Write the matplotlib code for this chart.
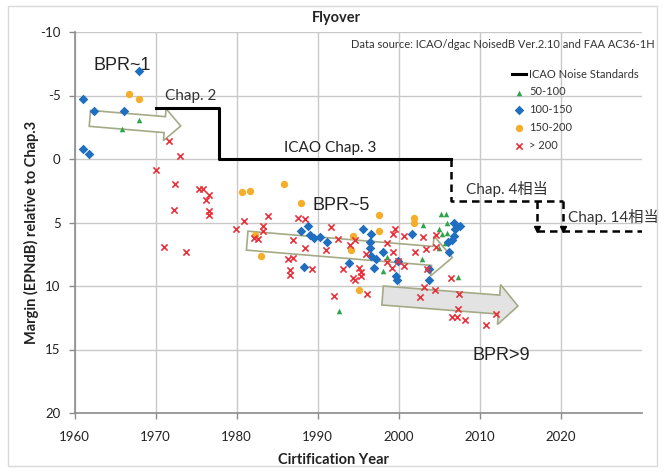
import numpy as np
import matplotlib
matplotlib.use("Agg")
import matplotlib.pyplot as plt
from matplotlib import patches, transforms

plt.rcParams["font.family"] = ["Lato", "Noto Sans CJK JP", "DejaVu Sans"]
plt.rcParams["axes.unicode_minus"] = False

# ---- certification data: (year, margin EPNdB relative to Chap.3) ----
bpr_50_100_year = [1968.0, 1965.9, 1992.6, 1998.6, 1998.0, 2002.9, 2003.0, 2005.2, 2005.8,
                   2005.9, 2004.9, 2005.3, 2005.9, 2005.7, 2004.9, 2007.3]
bpr_50_100_margin = [-3.1, -2.4, 12.0, 7.75, 8.85, 7.9, 5.2, 4.3, 4.3,
                     5.0, 5.55, 5.9, 5.8, 6.6, 7.0, 9.3]

bpr_100_150_year = [1968.0, 1961.1, 1962.4, 1966.1, 1961.1, 1961.8,
                    1987.9, 1988.8, 1989.0, 1989.5, 1990.3, 1991.1, 1988.3,
                    1995.6, 1996.6, 1996.5, 1996.5, 1998.1, 1996.6, 1997.2, 1993.9,
                    1996.9, 1999.7, 1999.8, 2001.6, 1999.9,
                    2006.8, 2007.6, 2006.9, 2006.8, 2006.6, 2006.1, 2006.2, 2003.7, 2003.7]
bpr_100_150_margin = [-6.9, -4.7, -3.8, -3.8, -0.8, -0.4,
                      5.65, 5.25, 6.0, 6.2, 6.15, 6.5, 8.5,
                      5.5, 5.9, 6.55, 7.0, 7.3, 7.65, 7.85, 8.2,
                      8.6, 9.2, 9.5, 5.9, 8.05,
                      5.05, 5.25, 5.5, 6.1, 6.35, 6.55, 7.35, 8.65, 9.55]

bpr_150_200_year = [1966.7, 1967.9, 1980.7, 1981.7, 1985.9, 1987.9, 1982.3, 1983.0,
                    1997.5, 2001.9, 2001.9, 1997.5, 1994.4, 1994.1, 1995.1]
bpr_150_200_margin = [-5.15, -4.7, 2.6, 2.5, 2.0, 3.5, 6.0, 7.6,
                      4.4, 4.65, 5.0, 5.7, 6.05, 7.15, 10.35]

bpr_200_year = [1971.7, 1973.0, 1970.0, 1972.4, 1975.3, 1975.8, 1976.6, 1976.2, 1972.3,
                1976.6, 1976.6, 1971.0, 1973.8,
                1980.9, 1979.9, 1983.9, 1983.3, 1983.3, 1982.2, 1982.6, 1987.6, 1988.4,
                1986.9, 1988.4, 1986.3, 1986.9, 1986.6, 1986.6, 1989.3,
                1991.7, 1992.5, 1991.0, 1991.95, 1993.1, 1999.5, 1999.3, 2000.7, 2003.0,
                1994.6, 1994.0, 1998.5, 1999.3, 2002.0, 2003.3, 1996.0, 1999.9, 1999.2,
                2000.6, 1995.1, 1995.4, 1995.3, 1994.3, 1994.6, 2003.5, 1996.1, 2002.6,
                2003.1, 1998.6,
                2004.6, 2004.6, 2006.4, 2004.5, 2007.4, 2007.3, 2006.6, 2007.2, 2008.2,
                2012.0, 2010.7]
bpr_200_margin = [-1.4, -0.2, 0.9, 2.0, 2.4, 2.4, 2.8, 3.2, 4.05,
                  4.1, 4.4, 6.9, 7.3,
                  4.85, 5.5, 4.5, 5.3, 5.7, 6.2, 6.3, 4.65, 4.7,
                  6.35, 7.0, 7.9, 7.8, 8.75, 9.1, 8.65,
                  5.35, 6.3, 7.2, 10.8, 8.65, 5.55, 5.9, 6.1, 6.15,
                  6.35, 6.75, 6.6, 7.3, 7.3, 7.1, 7.45, 8.0, 8.6,
                  8.45, 8.6, 8.9, 9.2, 9.35, 9.5, 8.7, 10.6, 10.9,
                  10.1, 8.1,
                  5.95, 6.9, 9.35, 10.3, 10.6, 11.8, 12.45, 12.45, 12.7,
                  12.2, 13.05]

# ---- ICAO noise standard levels ----
std_year = [1970.0, 1977.8, 1977.8, 2006.4]
std_margin = [-4.0, -4.0, 0.0, 0.0]
chap4_year = [2006.4, 2006.4, 2020.3]
chap4_margin = [0.0, 3.27, 3.27]
chap14_start = [2017.0, 2020.3]
chap14_level = 5.65
x_end = 2030

x_ticks = [1960, 1970, 1980, 1990, 2000, 2010, 2020]
y_ticks = [-10, -5, 0, 5, 10, 15, 20]

W, H = 664, 472
fig = plt.figure(figsize=(W / 100, H / 100), dpi=100)
fig.patches.append(patches.Rectangle((8 / W, 6 / H), 649 / W, 460 / H, transform=fig.transFigure,
                                     fill=False, edgecolor="#d9d9d9", lw=1))

ax = fig.add_axes([74.5 / W, 1 - 413 / H, (642 - 74.5) / W, (413 - 32) / H])
ax.set_xlim(1960, x_end)
ax.set_ylim(20, -10)
ax.set_xticks(x_ticks)
ax.set_yticks(y_ticks)
ax.grid(True, color="#c8c8c8", lw=1)
ax.set_axisbelow(True)
for s in ["top", "right"]:
    ax.spines[s].set_visible(False)
for s in ["left", "bottom"]:
    ax.spines[s].set_color("#8c8c8c")
    ax.spines[s].set_linewidth(1.2)
ax.tick_params(axis="both", colors="#8c8c8c", length=4, width=1, labelsize=9.5,
               labelcolor="#222222")
ax.tick_params(axis="x", pad=9)
ax.tick_params(axis="y", pad=6)


def block_arrow(start, end, body_w, head_w, head_len, face, edge):
    p0 = ax.transData.transform(start)
    p1 = ax.transData.transform(end)
    d = p1 - p0
    u = d / np.hypot(*d)
    n = np.array([-u[1], u[0]])
    base = p1 - u * head_len
    pts = [p0 + n * body_w / 2, base + n * body_w / 2, base + n * head_w / 2, p1,
           base - n * head_w / 2, base - n * body_w / 2, p0 - n * body_w / 2]
    poly = patches.Polygon(pts, closed=True, facecolor=face, edgecolor=edge, lw=1.2,
                           transform=transforms.IdentityTransform(), zorder=2, clip_on=False)
    ax.add_artist(poly)


edge_col = "#a4aa86"
block_arrow((1961.9, -3.2), (1973.1, -2.6), 16, 32, 16, "white", edge_col)
block_arrow((1981.3, 6.43), (2006.6, 7.76), 19, 40, 20, "none", edge_col)
block_arrow((1998.0, 10.75), (2014.7, 11.58), 19, 40, 19, "#e3e3e3", edge_col)

# standards
ax.plot(std_year, std_margin, color="black", lw=2.2, zorder=3,
        label="ICAO Noise Standards")
ax.plot(chap4_year, chap4_margin, color="black", lw=1.8, ls=(0, (3, 2)), zorder=3)
for xs in chap14_start:
    ax.plot([xs, xs], [chap4_margin[-1], chap14_level - 0.25], color="black", lw=1.8,
            ls=(0, (3, 2)), zorder=3)
    ax.plot([xs], [chap14_level - 0.15], marker="v", color="black", ms=4, zorder=3)
ax.plot([chap14_start[0], x_end], [chap14_level, chap14_level], color="black", lw=1.8,
        ls=(0, (3, 2)), zorder=3)

# scatter series
ax.scatter(bpr_50_100_year, bpr_50_100_margin, marker="^", s=16, color="#2ca44a",
           zorder=4, label="50-100", linewidths=0)
ax.scatter(bpr_100_150_year, bpr_100_150_margin, marker="D", s=24, color="#1f6ebf",
           zorder=4, label="100-150", linewidths=0)
ax.scatter(bpr_150_200_year, bpr_150_200_margin, marker="o", s=28, color="#f5ae2a",
           zorder=4, label="150-200", linewidths=0)
ax.scatter(bpr_200_year, bpr_200_margin, marker="x", s=20, color="#e8313b",
           zorder=5, label="> 200", linewidths=1.2)

# annotations
arial = ["Liberation Sans", "DejaVu Sans"]
ax.text(1962.3, -7.4, "BPR~1", fontsize=13, family=arial, va="center", color="#222222")
ax.text(1989.4, 3.65, "BPR~5", fontsize=13, family=arial, va="center", color="#222222")
ax.text(2009.1, 15.5, "BPR>9", fontsize=13, family=arial, va="center", color="#222222")
ax.text(1971.2, -4.95, "Chap. 2", fontsize=11, va="center", color="#333333")
ax.text(1985.9, -0.86, "ICAO Chap. 3", fontsize=11, va="center", color="#222222")
ax.text(2008.3, 2.35, "Chap. 4相当", fontsize=11, va="center", color="#333333")
ax.text(2020.9, 4.6, "Chap. 14相当", fontsize=11, va="center", color="#333333")

leg = ax.legend(loc="upper left", bbox_to_anchor=(506 / W, 1 - 63 / H),
                bbox_transform=fig.transFigure, frameon=False, fontsize=8,
                handlelength=1.3, handletextpad=0.3, labelspacing=0.62,
                borderpad=0, scatterpoints=1)
for t in leg.get_texts():
    t.set_color("#333333")

fig.text(336 / W, 1 - 18 / H, "Flyover", fontsize=10.5, weight="bold", ha="center",
         va="center", color="#222222")
fig.text(655 / W, 1 - 44 / H, "Data source: ICAO/dgac NoisedB Ver.2.10 and FAA AC36-1H",
         fontsize=8, ha="right", va="center", color="#333333")
fig.text(334 / W, 1 - 460 / H, "Cirtification Year", fontsize=10.5, weight="bold",
         ha="center", va="center", color="#222222")
fig.text(31 / W, 1 - 232 / H, "Margin (EPNdB) relative to Chap.3", fontsize=10.5,
         weight="bold", rotation=90, ha="center", va="center", color="#222222")

fig.savefig("out.png", dpi=100)
